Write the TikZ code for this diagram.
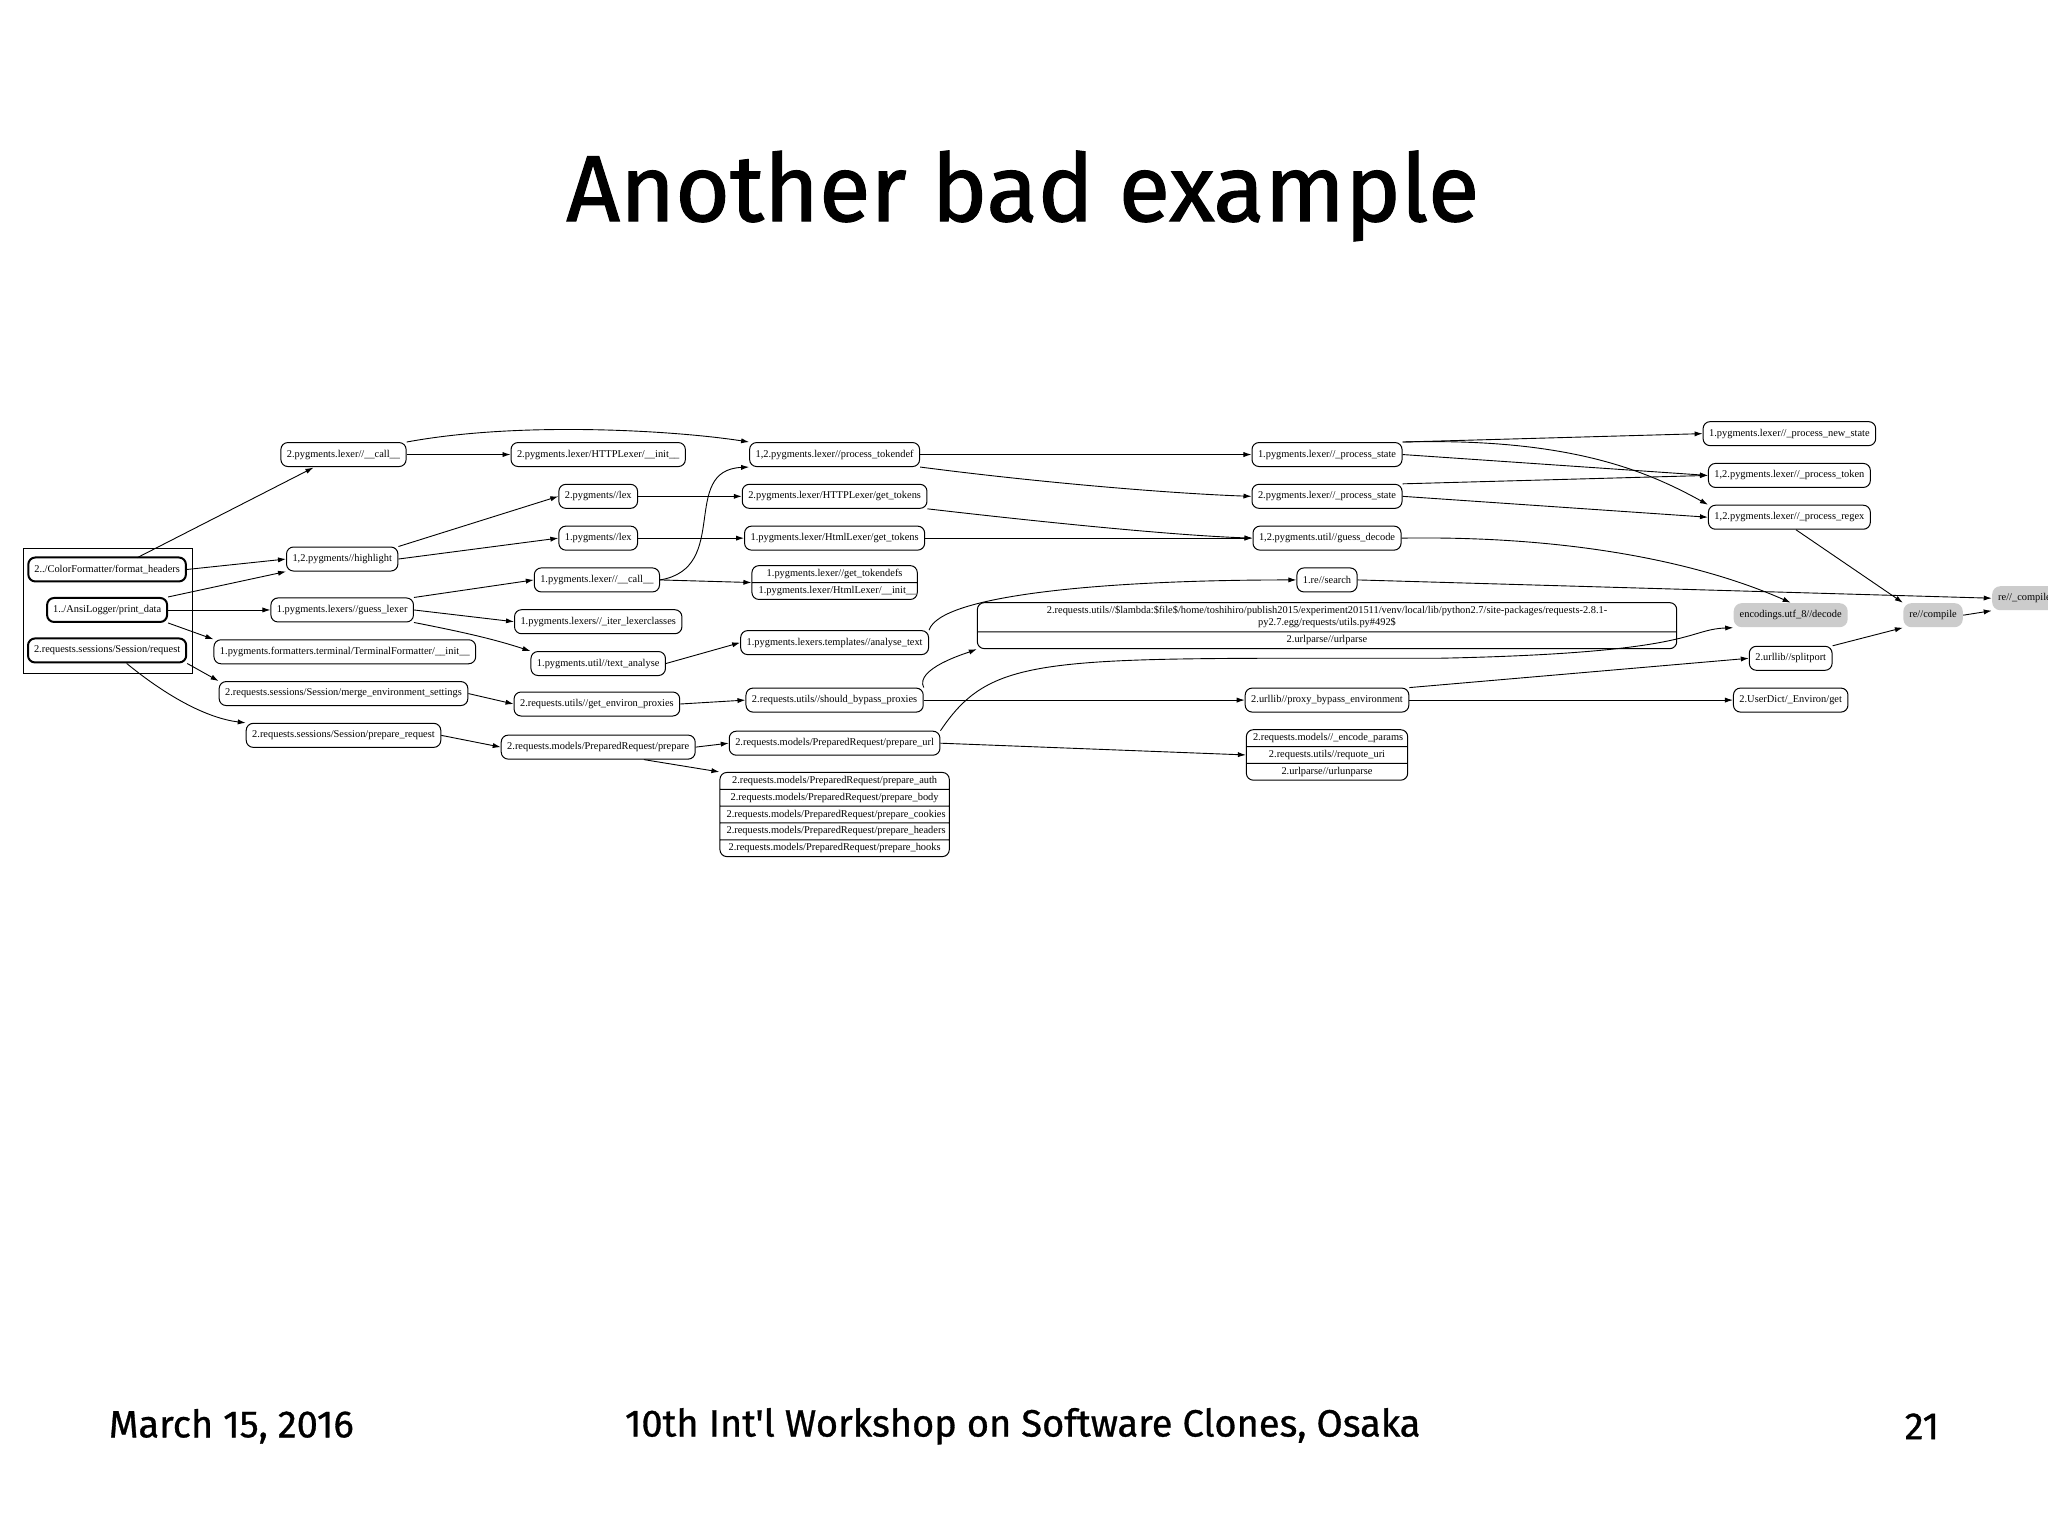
\documentclass[tikz,border=0pt]{standalone}
\usepackage{fontspec}
\setmainfont{Liberation Serif}
\newfontfamily\slidefont[FakeBold=1.2]{Fira Sans}
\newfontfamily\footfont[FakeBold=0.8]{Fira Sans}
\usetikzlibrary{arrows.meta,shapes.multipart}
\begin{document}
\begin{tikzpicture}[x=0.653pt,y=-0.653pt,
  nd/.style={draw,rounded corners=3.5pt,font=\fontsize{5.2}{6}\selectfont,inner xsep=3pt,minimum height=12pt,line width=0.5pt},
  thk/.style={nd,line width=1pt},
  gry/.style={nd,draw=none,fill=black!20,rounded corners=4pt},
  sp/.style={draw,rounded corners=3.5pt,rectangle split,font=\fontsize{5.2}{6}\selectfont,align=center,line width=0.5pt,inner ysep=1.6pt},
  e/.style={-{Latex[length=4pt,width=2.6pt]},line width=0.45pt},
  big/.style={font=\slidefont\fontsize{47}{56}\selectfont},
  foot/.style={font=\footfont\fontsize{19}{23}\selectfont}]
\useasboundingbox (0,0) rectangle (1568,1175);
\fill[white] (0,0) rectangle (1568,1175);
\node[big] (title) at (783,150) {Another bad example};
\node[foot,anchor=west] (f1) at (78,1092) {March 15, 2016};
\node[foot] (f2) at (783,1092) {10th Int'l Workshop on Software Clones, Osaka};
\node[foot,anchor=east] (f3) at (1490,1092) {21};
\begin{scope}
\clip (0,300) rectangle (1568,680);
\draw[line width=0.5pt] (18,420) rectangle (147,516);
\node[thk] (A1) at (82,436) {2../ColorFormatter/format\_headers};
\node[thk] (A2) at (82,467) {1../AnsiLogger/print\_data};
\node[thk] (A3) at (82,498) {2.requests.sessions/Session/request};
\node[nd] (B1) at (263,348) {2.pygments.lexer//\_\_call\_\_};
\node[nd] (B2) at (458,348) {2.pygments.lexer/HTTPLexer/\_\_init\_\_};
\node[nd] (C1) at (458,380) {2.pygments//lex};
\node[nd] (C2) at (458,412) {1.pygments//lex};
\node[nd] (H) at (262,428) {1,2.pygments//highlight};
\node[nd] (L1) at (457,444) {1.pygments.lexer//\_\_call\_\_};
\node[nd] (GL) at (262,467) {1.pygments.lexers//guess\_lexer};
\node[nd] (IL) at (458,476) {1.pygments.lexers//\_iter\_lexerclasses};
\node[nd] (TF) at (264,499) {1.pygments.formatters.terminal/TerminalFormatter/\_\_init\_\_};
\node[nd] (TA) at (458,508) {1.pygments.util//text\_analyse};
\node[nd] (ME) at (263,531) {2.requests.sessions/Session/merge\_environment\_settings};
\node[nd] (GEP) at (457,539) {2.requests.utils//get\_environ\_proxies};
\node[nd] (PR) at (263,563) {2.requests.sessions/Session/prepare\_request};
\node[nd] (PP) at (458,572) {2.requests.models/PreparedRequest/prepare};
\node[nd] (PT) at (639,348) {1,2.pygments.lexer//process\_tokendef};
\node[nd] (HGT) at (639,380) {2.pygments.lexer/HTTPLexer/get\_tokens};
\node[nd] (HLT) at (639,412) {1.pygments.lexer/HtmlLexer/get\_tokens};
\node[sp,rectangle split parts=2,text width=76pt] (GTD) at (639,446) {1.pygments.lexer//get\_tokendefs\nodepart{two}1.pygments.lexer/HtmlLexer/\_\_init\_\_};
\node[nd] (AT) at (639,492) {1.pygments.lexers.templates//analyse\_text};
\node[nd] (SBP) at (639,536) {2.requests.utils//should\_bypass\_proxies};
\node[nd] (PU) at (639,569) {2.requests.models/PreparedRequest/prepare\_url};
\node[sp,rectangle split parts=5,text width=108pt,anchor=north] (PREP) at (639,591) {2.requests.models/PreparedRequest/prepare\_auth\nodepart{two}2.requests.models/PreparedRequest/prepare\_body\nodepart{three}2.requests.models/PreparedRequest/prepare\_cookies\nodepart{four}2.requests.models/PreparedRequest/prepare\_headers\nodepart{five}2.requests.models/PreparedRequest/prepare\_hooks};
\node[nd] (PS1) at (1016,348) {1.pygments.lexer//\_process\_state};
\node[nd] (PS2) at (1016,380) {2.pygments.lexer//\_process\_state};
\node[nd] (GD) at (1016,412) {1,2.pygments.util//guess\_decode};
\node[nd] (RS) at (1016,444) {1.re//search};
\node[sp,rectangle split parts=2,text width=343pt] (LAM) at (1016,479) {2.requests.utils//\$lambda:\$file\$/home/toshihiro/publish2015/experiment201511/venv/local/lib/python2.7/site-packages/requests-2.8.1-py2.7.egg/requests/utils.py\#492\$\nodepart{two}2.urlparse//urlparse};
\node[nd] (PBE) at (1016,536) {2.urllib//proxy\_bypass\_environment};
\node[sp,rectangle split parts=3,text width=74pt] (EP) at (1016,578) {2.requests.models//\_encode\_params\nodepart{two}2.requests.utils//requote\_uri\nodepart{three}2.urlparse//urlunparse};
\node[nd] (PNS) at (1370,332) {1.pygments.lexer//\_process\_new\_state};
\node[nd] (PTK) at (1370,364) {1,2.pygments.lexer//\_process\_token};
\node[nd] (PRX) at (1370,396) {1,2.pygments.lexer//\_process\_regex};
\node[gry] (ENC) at (1371,471) {encodings.utf\_8//decode};
\node[nd] (SP) at (1371,504) {2.urllib//splitport};
\node[nd] (UD) at (1371,536) {2.UserDict/\_Environ/get};
\node[gry] (RC) at (1480,471) {re//compile};
\node[gry] (RCC) at (1550,458) {re//\_compile};
% edges
\draw[e] (105,427) -- (240,358);
\draw[e] (A1.east) -- (H.west);
\draw[e] (A2.north east) -- (H.south west);
\draw[e] (A2.east) -- (GL.west);
\draw[e] (A2.south east) -- (TF.north west);
\draw[e] (A3.south east) -- (ME.north west);
\draw[e] (A3.south) ++(15,0) .. controls (130,535) and (160,550) .. (PR.north west);
\draw[e] (B1.east) -- (B2.west);
\draw[e] (B1.north east) .. controls (400,322) and (520,330) .. (PT.north west);
\draw[e] (H.north east) -- (C1.west);
\draw[e] (H.east) -- (C2.west);
\draw[e] (C1.east) -- (HGT.west);
\draw[e] (C2.east) -- (HLT.west);
\draw[e] (GL.north east) -- (L1.west);
\draw[e] (GL.east) -- (IL.west);
\draw[e] (GL.south east) .. controls (360,485) and (380,490) .. (TA.north west);
\draw[e] (L1.east) .. controls (560,435) and (520,360) .. (PT.south west);
\draw[e] (L1.east) -- (GTD.west);
\draw[e] (TA.east) -- (AT.west);
\draw[e] (AT.north east) .. controls (720,455) and (850,444) .. (RS.west);
\draw[e] (ME.east) -- (GEP.west);
\draw[e] (GEP.east) -- (SBP.west);
\draw[e] (SBP.north east) .. controls (700,512) and (740,500) .. (LAM.south west);
\draw[e] (SBP.east) -- (PBE.west);
\draw[e] (PR.east) -- (PP.west);
\draw[e] (PP.east) -- (PU.west);
\draw[e] (PP.south) ++(35,0) -- (PREP.north west);
\draw[e] (PU.north east) .. controls (760,500) and (800,504) .. (1100,504) .. controls (1300,500) and (1290,482) .. (ENC.south west);
\draw[e] (PU.east) -- (EP.west);
\draw[e] (PT.east) -- (PS1.west);
\draw[e] (PT.south east) .. controls (800,370) and (900,378) .. (PS2.west);
\draw[e] (HGT.south east) .. controls (800,400) and (900,410) .. (GD.west);
\draw[e] (HLT.east) -- (GD.west);
\draw[e] (PS1.north east) -- (PNS.west);
\draw[e] (PS1.east) -- (PTK.west);
\draw[e] (PS1.north east) .. controls (1200,335) and (1260,360) .. (PRX.north west);
\draw[e] (PS2.north east) -- (PTK.west);
\draw[e] (PS2.east) -- (PRX.west);
\draw[e] (GD.east) .. controls (1200,410) and (1300,430) .. (ENC.north);
\draw[e] (RS.east) -- (RCC.west);
\draw[e] (PRX.south) ++(5,0) -- (RC.north west);
\draw[e] (SP.north east) -- (RC.south west);
\draw[e] (RC.east) -- (RCC.south west);
\draw[e] (PBE.north east) -- (SP.west);
\draw[e] (PBE.east) -- (UD.west);
\end{scope}
\end{tikzpicture}
\end{document}
